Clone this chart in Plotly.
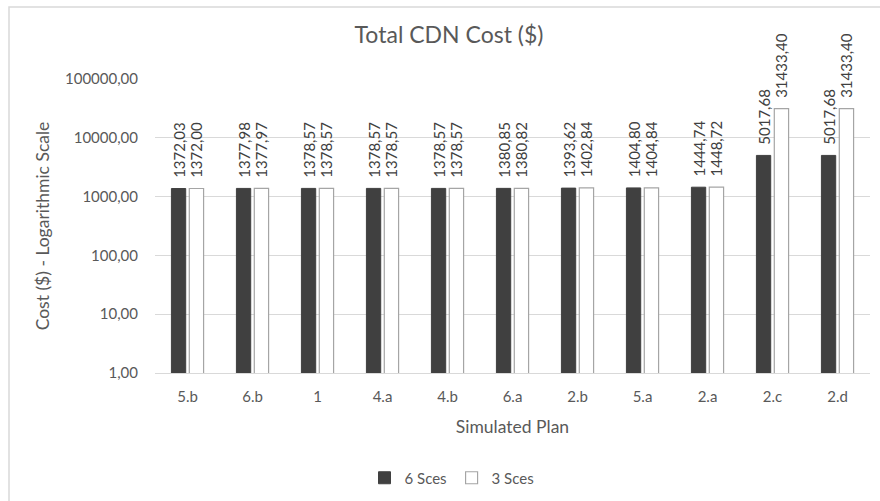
import plotly.graph_objects as go

plans = ["5.b", "6.b", "1", "4.a", "4.b", "6.a", "2.b", "5.a", "2.a", "2.c", "2.d"]
cost_6_sces = [1372.03, 1377.98, 1378.57, 1378.57, 1378.57, 1380.85, 1393.62, 1404.80, 1444.74, 5017.68, 5017.68]
cost_3_sces = [1372.00, 1377.97, 1378.57, 1378.57, 1378.57, 1380.82, 1402.84, 1404.84, 1448.72, 31433.40, 31433.40]
y_ticks = [1, 10, 100, 1000, 10000, 100000]

FONT = "Lato"
TXT = "#595959"

fig = go.Figure()
fig.add_trace(go.Bar(
    name="6 Sces", x=plans, y=cost_6_sces,
    marker=dict(color="#404040", line=dict(color="#404040", width=1)),
    texttemplate="\u00a0\u00a0%{y:.2f}", textposition="outside", textangle=-90,
    constraintext="none", cliponaxis=False,
    textfont=dict(family=FONT, size=15, color="#404040"),
))
fig.add_trace(go.Bar(
    name="3 Sces", x=plans, y=cost_3_sces,
    marker=dict(color="#ffffff", line=dict(color="#a5a5a5", width=1.2)),
    texttemplate="\u00a0\u00a0%{y:.2f}", textposition="outside", textangle=-90,
    constraintext="none", cliponaxis=False,
    textfont=dict(family=FONT, size=15, color="#404040"),
))

L, R, T, B = 155, 10, 79, 128
W, H = 880, 501
pw, ph = W - L - R, H - T - B

def px(x):
    return (x - L) / pw

def py(y):
    return (H - B - y) / ph

fig.update_layout(
    width=W, height=H,
    margin=dict(l=L, r=R, t=T, b=B),
    paper_bgcolor="white", plot_bgcolor="white",
    separators=",.",
    font=dict(family=FONT, size=15, color=TXT),
    barmode="group", bargap=0.45, bargroupgap=0.2,
    title=dict(text="Total CDN Cost ($)", x=449 / W, xanchor="center",
               y=1 - 35 / H, yanchor="middle", xref="container", yref="container",
               font=dict(family=FONT, size=23, color=TXT)),
    xaxis=dict(
        showline=True, linecolor="#d9d9d9", linewidth=1,
        showgrid=False, ticks="", ticklabelstandoff=10,
        tickfont=dict(family=FONT, size=15, color=TXT),
        title=dict(text="Simulated Plan", standoff=16,
                   font=dict(family=FONT, size=17.5, color=TXT)),
    ),
    yaxis=dict(
        type="log", range=[0, 5],
        tickvals=y_ticks, tickformat=".2f",
        showgrid=True, gridcolor="#d9d9d9", gridwidth=1,
        showline=False, zeroline=False, ticks="", ticklabelstandoff=16,
        tickfont=dict(family=FONT, size=15, color=TXT),
        title=dict(text="Cost ($) - Logarithmic Scale", standoff=10,
                   font=dict(family=FONT, size=17.5, color=TXT)),
    ),
    legend=dict(orientation="h", xref="container", yref="container",
                x=452 / W, xanchor="center", y=1 - 478 / H, yanchor="middle",
                font=dict(family=FONT, size=15, color=TXT),
                itemwidth=30, traceorder="normal"),
    shapes=[dict(type="rect", xref="paper", yref="paper",
                 x0=px(9), x1=px(895), y0=py(510), y1=py(7),
                 line=dict(color="#d9d9d9", width=1.5), fillcolor="rgba(0,0,0,0)",
                 layer="below")],
)

fig.write_html("out.html")
